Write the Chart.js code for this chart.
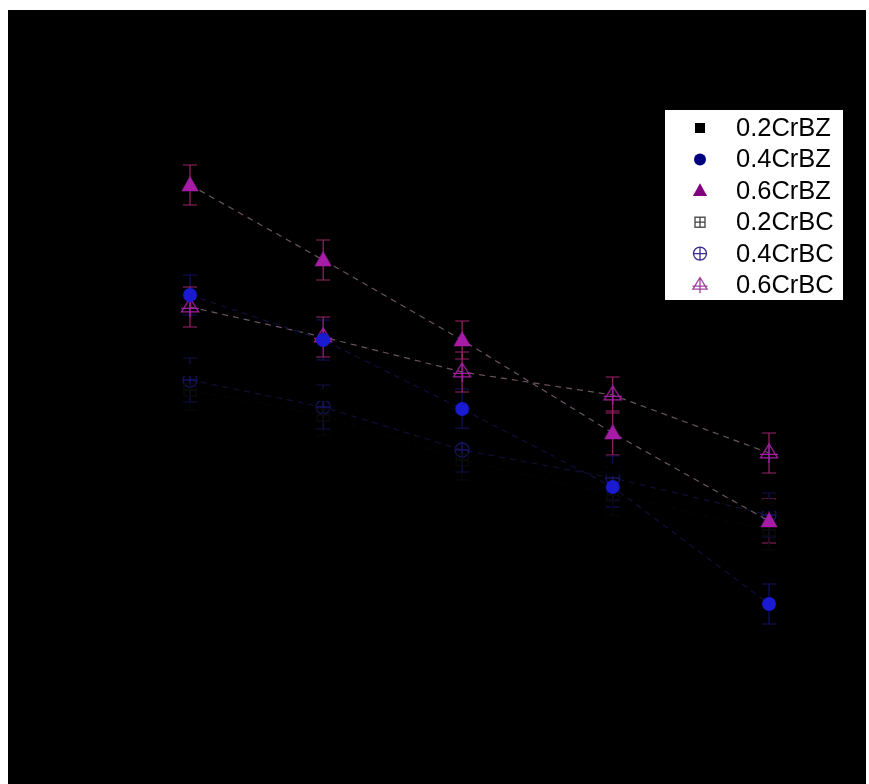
<!DOCTYPE html>
<html>
<head>
<meta charset="utf-8">
<script src="https://cdn.jsdelivr.net/npm/chart.js@4.4.1/dist/chart.umd.min.js"></script>
<style>
  body { margin: 0; background: #fff; }
  #wrap { position: absolute; left: 8px; top: 10px; width: 858px; height: 774px; background: #000; }
</style>
</head>
<body>
<div id="wrap"><canvas id="chart" width="858" height="774"></canvas></div>
<script>
// dados (eixos invisíveis: fundo preto)
const xValues = [1, 1.92, 2.88, 3.92, 5];
const seriesNames = ['0.2CrBZ', '0.4CrBZ', '0.6CrBZ', '0.2CrBC', '0.4CrBC', '0.6CrBC'];

const cr02BZ = [33.0, 30.5, 26.5, 23.0, 19.5];
const cr04BZ = [40.5, 36.0, 29.1, 21.3, 9.6];
const cr06BZ = [51.5, 44.0, 36.0, 26.7, 17.9];
const cr02BC = [31.0, 28.5, 24.0, 20.5, 17.0];
const cr04BC = [32.0, 29.3, 25.0, 22.2, 18.5];
const cr06BC = [39.3, 36.3, 32.8, 30.5, 24.7];

const err02BZ = [2.0, 2.0, 2.0, 2.0, 2.0];
const err04BZ = [2.0, 2.0, 2.0, 2.0, 2.0];
const err06BZ = [2.0, 2.0, 1.9, 2.2, 2.2];
const err02BC = [2.0, 2.0, 2.0, 2.0, 2.0];
const err04BC = [2.2, 2.2, 2.2, 2.2, 2.2];
const err06BC = [2.0, 2.0, 2.0, 1.8, 2.0];

// desenhar um marcador
function drawMarker(ctx, kind, x, y, r, color) {
    ctx.save();
    ctx.fillStyle = color;
    ctx.strokeStyle = color;
    ctx.lineWidth = 1.3;
    ctx.beginPath();
    if (kind === 'square') {
        ctx.fillRect(x - r, y - r, 2 * r, 2 * r);
    } else if (kind === 'circle') {
        ctx.arc(x, y, r, 0, Math.PI * 2);
        ctx.fill();
    } else if (kind === 'triangle') {
        ctx.moveTo(x, y - r);
        ctx.lineTo(x + r * 0.95, y + r * 0.7);
        ctx.lineTo(x - r * 0.95, y + r * 0.7);
        ctx.closePath();
        ctx.fill();
    } else if (kind === 'squarePlus') {
        ctx.strokeRect(x - r, y - r, 2 * r, 2 * r);
        ctx.moveTo(x, y - r); ctx.lineTo(x, y + r);
        ctx.moveTo(x - r, y); ctx.lineTo(x + r, y);
        ctx.stroke();
    } else if (kind === 'circlePlus') {
        ctx.arc(x, y, r, 0, Math.PI * 2);
        ctx.moveTo(x, y - r); ctx.lineTo(x, y + r);
        ctx.moveTo(x - r, y); ctx.lineTo(x + r, y);
        ctx.stroke();
    } else if (kind === 'trianglePlus') {
        ctx.moveTo(x, y - r);
        ctx.lineTo(x + r * 0.95, y + r * 0.55);
        ctx.lineTo(x - r * 0.95, y + r * 0.55);
        ctx.closePath();
        ctx.moveTo(x, y - r); ctx.lineTo(x, y + r * 1.1);
        ctx.moveTo(x - r, y + r * 0.15); ctx.lineTo(x + r, y + r * 0.15);
        ctx.stroke();
    }
    ctx.restore();
}

function markerCanvas(kind, r, color) {
    const c = document.createElement('canvas');
    const s = Math.ceil(2 * r + 6);
    c.width = s;
    c.height = s;
    drawMarker(c.getContext('2d'), kind, s / 2, s / 2, r, color);
    return c;
}

const styles = [
    { kind: 'square', r: 6, color: '#000000', legendColor: '#000000', line: '#000000', bar: '#000000', lr: 5 },
    { kind: 'circle', r: 7, color: '#1a1ad0', legendColor: '#000080', line: '#0e0e3c', bar: '#111160', lr: 6 },
    { kind: 'triangle', r: 9, color: '#a61ca6', legendColor: '#800080', line: '#6a5464', bar: '#9a2468', lr: 7.5 },
    { kind: 'squarePlus', r: 6, color: '#0c0c0c', legendColor: '#404040', line: '#050505', bar: '#080808', lr: 5 },
    { kind: 'circlePlus', r: 7, color: '#161660', legendColor: '#3a2a90', line: '#0e0e34', bar: '#10104a', lr: 6.5 },
    { kind: 'trianglePlus', r: 9, color: '#a020a0', legendColor: '#a040a0', line: '#6a5464', bar: '#9a2468', lr: 7.5 }
];
const values = [cr02BZ, cr04BZ, cr06BZ, cr02BC, cr04BC, cr06BC];
const errors = [err02BZ, err04BZ, err06BZ, err02BC, err04BC, err06BC];

// barras de erro
const errorBars = {
    id: 'errorBars',
    beforeDatasetsDraw(chart) {
        const ctx = chart.ctx;
        const xs = chart.scales.x, ys = chart.scales.y;
        values.forEach((vals, i) => {
            ctx.save();
            ctx.strokeStyle = styles[i].bar;
            ctx.lineWidth = 1.2;
            vals.forEach((v, j) => {
                const x = xs.getPixelForValue(xValues[j]);
                const yt = ys.getPixelForValue(v + errors[i][j]);
                const yb = ys.getPixelForValue(v - errors[i][j]);
                ctx.beginPath();
                ctx.moveTo(x, yt); ctx.lineTo(x, yb);
                ctx.moveTo(x - 7, yt); ctx.lineTo(x + 7, yt);
                ctx.moveTo(x - 7, yb); ctx.lineTo(x + 7, yb);
                ctx.stroke();
            });
            ctx.restore();
        });
    }
};

// legenda com caixa branca
const boxLegend = {
    id: 'boxLegend',
    afterDraw(chart) {
        const ctx = chart.ctx;
        ctx.save();
        ctx.fillStyle = '#ffffff';
        ctx.fillRect(657, 100, 178, 190);
        ctx.font = '25.5px "Liberation Sans", Arial, sans-serif';
        ctx.textBaseline = 'middle';
        seriesNames.forEach((name, i) => {
            const y = 118 + i * 31.4;
            drawMarker(ctx, styles[i].kind, 692, y, styles[i].lr, styles[i].legendColor);
            ctx.fillStyle = '#000000';
            ctx.fillText(name, 728, y + 1);
        });
        ctx.restore();
    }
};

const datasets = seriesNames.map((name, i) => ({
    label: name,
    data: values[i].map((v, j) => ({ x: xValues[j], y: v })),
    showLine: true,
    borderColor: styles[i].line,
    borderWidth: 1.2,
    borderDash: [6, 5],
    pointStyle: markerCanvas(styles[i].kind, styles[i].r, styles[i].color),
    pointRadius: styles[i].r,
    backgroundColor: styles[i].color
}));

new Chart(document.getElementById('chart'), {
    type: 'scatter',
    data: { datasets },
    options: {
        responsive: false,
        animation: false,
        layout: { padding: { left: 37.25, right: 24.6, top: 30, bottom: 84 } },
        scales: {
            x: { type: 'linear', min: 0, max: 5.5, display: false },
            y: { min: 0, max: 66, display: false }
        },
        plugins: {
            legend: { display: false },
            tooltip: { enabled: false }
        }
    },
    plugins: [errorBars, boxLegend]
});
</script>
</body>
</html>
